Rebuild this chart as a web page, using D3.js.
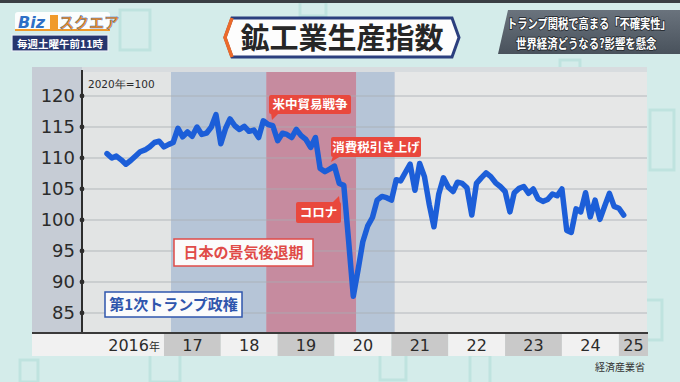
<!DOCTYPE html>
<html><head><meta charset="utf-8">
<script src="https://cdn.jsdelivr.net/npm/d3@7"></script>
<style>html,body{margin:0;padding:0;background:#d4ecea;}svg{display:block;}</style>
</head><body>
<script>
// ---- data ----
const startMonth = "2016-01";
const values = [110.7,110.0,110.3,109.7,109.0,109.6,110.3,111.0,111.3,111.8,112.5,112.7,
 111.8,112.2,112.5,114.8,113.4,114.2,113.5,115.0,113.8,114.0,115.0,117.0,
 112.3,114.8,116.3,115.2,114.6,115.1,114.3,114.5,113.3,116.0,115.4,115.2,
 112.8,114.0,113.8,113.3,114.6,113.6,113.0,111.7,113.3,108.3,107.8,108.2,
 108.7,105.9,105.6,96.6,87.7,92.0,96.5,99.0,100.4,103.2,103.8,103.6,
 103.2,106.5,106.3,107.7,109.0,104.8,109.1,107.0,102.5,98.9,104.2,106.8,
 105.3,104.6,106.1,105.9,105.2,100.8,105.9,106.8,107.6,107.0,106.0,105.4,
 104.6,101.3,104.4,105.1,105.4,104.3,105.0,103.4,103.0,103.3,104.2,103.9,
 105.0,98.3,98.0,101.8,101.3,104.4,100.5,103.2,100.1,102.2,104.3,102.2,
 101.9,100.8];
const yTicks = [85,90,95,100,105,110,115,120];
const yearLabels = ["2016","17","18","19","20","21","22","23","24","25"];
const bands = [
  {from:null,         to:"2017-02-15", kind:"pre"},
  {from:"2017-02-15", to:"2018-10-20", kind:"trump"},
  {from:"2018-10-20", to:"2020-05-20", kind:"recess"},
  {from:"2020-05-20", to:"2021-01-22", kind:"trump"},
  {from:"2021-01-22", to:null,         kind:"post"}
];
const title = "鉱工業生産指数";
const baseNote = "2020年=100";
const source = "経済産業省";
const capLines=["トランプ関税で高まる「不確実性」","世界経済どうなる?影響を懸念"];

// ---- setup ----
const W=680,H=382;
const svg=d3.select("body").append("svg").attr("width",W).attr("height",H);
const F="'Noto Sans CJK JP','Noto Sans',sans-serif";
const NF="'DejaVu Sans','Noto Sans',sans-serif";
const parse=d3.timeParse("%Y-%m-%d");
const t0=d3.timeParse("%Y-%m")(startMonth);
const data=values.map((v,i)=>({d:d3.timeMonth.offset(t0,i),v}));

const plotL=82, plotR=647, plotT=72, plotB=333;
const x=d3.scaleTime().domain([parse("2016-01-01"),parse("2025-01-01")]).range([107,618.9]);
const y=d3.scaleLinear().domain([85,120]).range([313,96]);

// background
svg.append("rect").attr("width",W).attr("height",H).attr("fill","#d4ecea");
const deco=svg.append("g").attr("fill","none").attr("stroke","#bfe3df").attr("stroke-width",3);
[[120,10,30,40],[300,2,26,14],[560,60,20,50],[650,110,24,60],[150,352,30,30],[380,350,26,30],[470,355,20,30],[20,360,18,22],[640,300,22,40]].forEach(r=>{
  deco.append("rect").attr("x",r[0]).attr("y",r[1]).attr("width",r[2]).attr("height",r[3]);
});
svg.append("rect").attr("width",W).attr("height",3).attr("fill","#3a3f44");

// panel
svg.append("rect").attr("x",32).attr("y",67).attr("width",plotR-32).attr("height",plotB-67).attr("fill","#c6ccd5");
const bandColor={pre:"#e2e4e4",trump:"#b6c5d7",recess:"#c68b9f",post:"#e6e7e7"};
const bx0=d=>d.from?x(parse(d.from)):plotL;
const bx1=d=>d.to?x(parse(d.to)):plotR;
svg.append("g").selectAll("rect").data(bands).join("rect")
  .attr("x",bx0).attr("width",d=>bx1(d)-bx0(d))
  .attr("y",plotT).attr("height",plotB-plotT)
  .attr("fill",d=>bandColor[d.kind]);
svg.append("rect").attr("x",plotL).attr("y",67).attr("width",plotR-plotL).attr("height",plotT-67).attr("fill","#e4e6e6").attr("opacity",0.6);

// gridlines
svg.append("g").selectAll("line").data(yTicks).join("line")
  .attr("x1",plotL).attr("x2",plotR).attr("y1",d=>y(d)).attr("y2",d=>y(d))
  .attr("stroke","#a9aeb3").attr("stroke-width",1).attr("opacity",0.8);

// y axis
const yAxis=d3.axisLeft(y).tickValues(yTicks).tickSize(0).tickPadding(7);
const ga=svg.append("g").attr("transform",`translate(${plotL},0)`).call(yAxis);
ga.select(".domain").remove();
ga.selectAll("text").attr("font-family",NF).attr("font-size",18).attr("fill","#2b2b2b");
svg.append("line").attr("x1",plotL).attr("x2",plotL).attr("y1",plotT-2).attr("y2",plotB)
  .attr("stroke","#2d2d2d").attr("stroke-width",2);
svg.append("g").selectAll("circle").data(yTicks).join("circle")
  .attr("cx",plotL).attr("cy",d=>y(d)).attr("r",2.4).attr("fill","#2d2d2d");

svg.append("text").attr("x",88).attr("y",88).attr("font-family",NF).attr("font-size",10.5)
  .attr("fill","#2b2b2b").text(baseNote);

// x label cells
const years=yearLabels.map((l,i)=>({l,i,s:parse(`${2016+i}-01-01`),e:parse(`${2017+i}-01-01`)}));
const cellY=334,cellH=22;
const cells=svg.append("g");
years.forEach(d=>{
  const x0=d.i===0?32:x(d.s);
  const x1=Math.min(plotR+1,x(d.e));
  cells.append("rect").attr("x",x0).attr("y",cellY).attr("width",x1-x0).attr("height",cellH)
    .attr("fill",d.i%2===0?"#f1f1f1":"#c9c9c9");
  const tx=cells.append("text").attr("y",cellY+17).attr("font-family",NF).attr("font-size",16).attr("fill","#2b2b2b");
  if(d.i===0){
    tx.attr("x",x1-4).attr("text-anchor","end");
    tx.append("tspan").text(d.l);
    tx.append("tspan").attr("font-family",F).attr("font-size",11).text("年");
  } else {
    tx.attr("x",(x0+x1)/2).attr("text-anchor","middle").text(d.l);
  }
});
svg.append("line").attr("x1",32).attr("x2",plotR+1).attr("y1",plotB).attr("y2",plotB)
  .attr("stroke","#3a3a3a").attr("stroke-width",2);

// line
const line=d3.line().x(d=>x(d.d)).y(d=>y(d.v)).curve(d3.curveLinear);
svg.append("path").datum(data).attr("d",line).attr("fill","none")
  .attr("stroke","#1c5ed8").attr("stroke-width",5.5).attr("stroke-linejoin","round").attr("stroke-linecap","round");

// annotations (red tags)
function tag(tx,x0,y0,w,h,tail){
  const g=svg.append("g");
  if(tail) g.append("path").attr("d",tail).attr("fill","#e9483d");
  g.append("rect").attr("x",x0).attr("y",y0).attr("width",w).attr("height",h).attr("rx",2).attr("fill","#e9483d");
  g.append("text").attr("x",x0+w/2).attr("y",y0+h/2+4.5).attr("text-anchor","middle")
    .attr("font-family",F).attr("font-weight","bold").attr("font-size",12.5).attr("fill","#fff").text(tx);
}
tag("米中貿易戦争",269,95,82,19,"M271,113 L279,113 L272,120 Z");
tag("消費税引き上げ",331,137,90,20,"M333,156 L341,156 L331,162 Z");
tag("コロナ",296,202,45,21,"M332,203 L340,203 L339,196 Z");

function box(tx,x0,y0,w,h,col){
  const g=svg.append("g");
  g.append("rect").attr("x",x0).attr("y",y0).attr("width",w).attr("height",h)
    .attr("fill","#fbfbfb").attr("stroke",col).attr("stroke-width",1.5);
  g.append("text").attr("x",x0+w/2).attr("y",y0+h/2+5.5).attr("text-anchor","middle")
    .attr("font-family",F).attr("font-weight","bold").attr("font-size",15).attr("fill",col).text(tx);
}
box("日本の景気後退期",174,239,139,27,"#e04b48");
box("第1次トランプ政権",105,292,137,25,"#2f56ad");

// source
svg.append("text").attr("x",645).attr("y",371).attr("text-anchor","end").attr("font-family",F)
  .attr("font-size",10).attr("fill","#333").text(source);

// title banner
const tb=svg.append("g");
tb.append("path").attr("d","M232,18 L452,18 L459,37.5 L452,57 L232,57 L225,37.5 Z")
  .attr("fill","#fdfdfd").attr("stroke","#2b3f7e").attr("stroke-width",3);
tb.append("path").attr("d","M232,18 L225,37.5 L232,57").attr("fill","none").attr("stroke","#ec6a2a").attr("stroke-width",3.5);
tb.append("text").attr("x",342).attr("y",49).attr("text-anchor","middle").attr("font-family",F)
  .attr("font-weight","bold").attr("font-size",29).attr("fill","#262626").text(title);

// logo
const lg=svg.append("g");
lg.append("rect").attr("x",15).attr("y",12).attr("width",95).attr("height",19).attr("rx",3).attr("fill","#fbfdfd");
lg.append("rect").attr("x",15).attr("y",29).attr("width",95).attr("height",2).attr("fill","#f09a2a");
lg.append("text").attr("x",18).attr("y",28).attr("font-family","'DejaVu Sans',sans-serif").attr("font-weight","bold")
  .attr("font-style","italic").attr("font-size",16).attr("fill","#2d6fc6").text("Biz");
lg.append("rect").attr("x",50).attr("y",15).attr("width",8).attr("height",14).attr("fill","#f09a2a");
lg.append("text").attr("x",59).attr("y",28).attr("font-family",F).attr("font-weight","bold")
  .attr("font-size",15).attr("fill","#f08a1c").attr("stroke","#2d6fc6").attr("stroke-width",0.4).text("スクエア");
lg.append("rect").attr("x",12).attr("y",35).attr("width",96).attr("height",16).attr("fill","#26366e").attr("stroke","#e8eef5").attr("stroke-width",1.2);
lg.append("text").attr("x",60).attr("y",47.5).attr("text-anchor","middle").attr("font-family",F).attr("font-weight","bold")
  .attr("font-size",10.5).attr("fill","#fff").text("毎週土曜午前11時");

// top-right caption
const tr=svg.append("g");
const grad=svg.append("defs").append("linearGradient").attr("id","cg").attr("x1",0).attr("x2",0).attr("y1",0).attr("y2",1);
grad.append("stop").attr("offset","0%").attr("stop-color","#6a737d");
grad.append("stop").attr("offset","100%").attr("stop-color","#49525c");
tr.append("path").attr("d","M508,10 L680,10 L680,54 L498,54 Z").attr("fill","url(#cg)");
capLines.forEach((s,i)=>{
  const tx=i===0?507:516, ty=i===0?28:48, sx=i===0?0.79:0.8;
  tr.append("text").attr("transform",`translate(${tx},${ty}) scale(${sx},1)`)
    .attr("font-family",F).attr("font-weight","bold")
    .attr("font-size",13).attr("fill","#fff").attr("stroke","#2a2f35").attr("stroke-width",2)
    .attr("paint-order","stroke").attr("stroke-linejoin","round").text(s);
});
</script>
</body></html>
